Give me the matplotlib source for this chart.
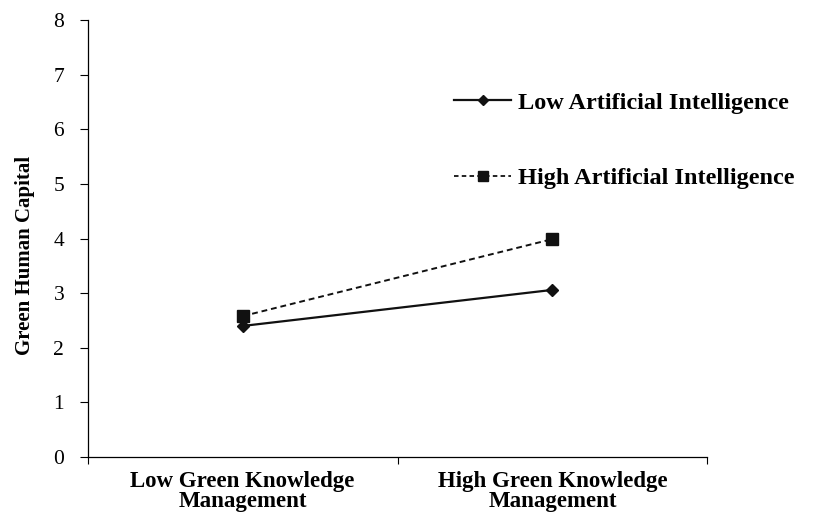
import matplotlib.pyplot as plt
from matplotlib.lines import Line2D

categories = ["Low Green Knowledge\nManagement", "High Green Knowledge\nManagement"]
low_ai = [2.40, 3.06]
high_ai = [2.58, 3.99]
series_names = ["Low Artificial Intelligence", "High Artificial Intelligence"]
y_ticks = [0, 1, 2, 3, 4, 5, 6, 7, 8]

plt.rcParams['font.family'] = ['Liberation Serif', 'DejaVu Serif']

fig = plt.figure(figsize=(8.13, 5.13), dpi=100)
ax = fig.add_axes([0.108, 0.109, 0.762, 0.852])

x = [0.5, 1.5]
ax.plot(x, low_ai, color='#111111', lw=1.6, marker='D', ms=6, label=series_names[0])
ax.plot(x, high_ai, color='#111111', lw=1.4, ls=(0, (3, 2)), marker='s', ms=8, label=series_names[1])

ax.set_xlim(0, 2)
ax.set_ylim(0, 8)
ax.set_yticks(y_ticks)
ax.set_yticklabels([str(v) for v in y_ticks], fontsize=15.5)
ax.set_xticks([0, 1, 2])
ax.set_xticklabels([])
ax.set_xticks(x, minor=True)
ax.set_xticklabels(categories, minor=True, fontsize=16.5, fontweight='bold', linespacing=0.95)
ax.tick_params(axis='x', which='minor', length=0, pad=10)
ax.tick_params(axis='x', which='major', length=5, direction='out', width=0.8)
ax.tick_params(axis='y', length=6, direction='out', width=0.8, pad=11)

for s in ['top', 'right']:
    ax.spines[s].set_visible(False)
for s in ['left', 'bottom']:
    ax.spines[s].set_linewidth(0.9)

ax.set_ylabel("Green Human Capital", fontsize=15, fontweight='bold')
ax.yaxis.set_label_coords(-0.086, 0.462)

handles = [
    Line2D([], [], color='#111111', lw=1.6, marker='D', ms=5),
    Line2D([], [], color='#111111', lw=1.3, ls=(0, (2.5, 1.8)), marker='s', ms=7),
]
leg = ax.legend(handles, series_names, loc='upper left', bbox_to_anchor=(0.576, 0.858),
                frameon=False, prop={'family': 'Liberation Serif', 'weight': 'bold', 'size': 17.5},
                handlelength=2.35, handletextpad=0.25, labelspacing=2.2, borderaxespad=0)

fig.savefig("out.png", dpi=100)
